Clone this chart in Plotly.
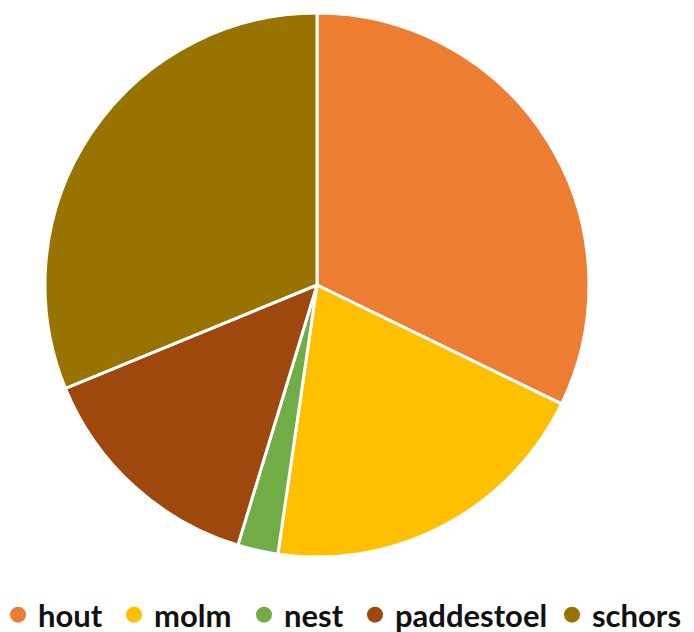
import plotly.graph_objects as go

categories = ["hout", "molm", "nest", "paddestoel", "schors"]
values = [32.2, 20.1, 2.4, 14.1, 31.2]
colors = ["#ED7D31", "#FFC000", "#70AD47", "#9E480E", "#997300"]

W, H = 694, 632
OFF = 8  # page body margin around the plot div
# legend symbol centres (px from page left)
legend_px = [18, 134, 264, 375, 572]

fig = go.Figure()
fig.add_trace(go.Pie(
    labels=categories, values=values, sort=False, direction="clockwise",
    rotation=0, textinfo="none", hoverinfo="label+percent",
    marker=dict(colors=colors, line=dict(color="white", width=3)),
    showlegend=False,
    domain=dict(x=[(45 - OFF) / W, (589 - OFF) / W],
                y=[(H - (557 - OFF)) / H, (H - (13 - OFF)) / H]),
))
legend_layout = {}
for i, (c, col, px) in enumerate(zip(categories, colors, legend_px)):
    lname = "legend" if i == 0 else f"legend{i + 1}"
    fig.add_trace(go.Scatter(
        x=[None], y=[None], mode="markers", name=c, legend=lname,
        marker=dict(symbol="circle", size=20, color=col),
    ))
    legend_layout[lname] = dict(
        x=(px - 20 - OFF) / W, xanchor="left", y=-2 / H, yanchor="bottom",
        font=dict(family="Lato", size=31, color="#111111", weight="bold"),
        itemwidth=30, bgcolor="rgba(0,0,0,0)", borderwidth=0,
    )

fig.update_layout(
    width=W, height=H,
    margin=dict(l=0, r=0, t=0, b=0, autoexpand=False),
    paper_bgcolor="white", plot_bgcolor="white",
    xaxis=dict(visible=False), yaxis=dict(visible=False),
    **legend_layout,
)
fig.write_html("out.html")
